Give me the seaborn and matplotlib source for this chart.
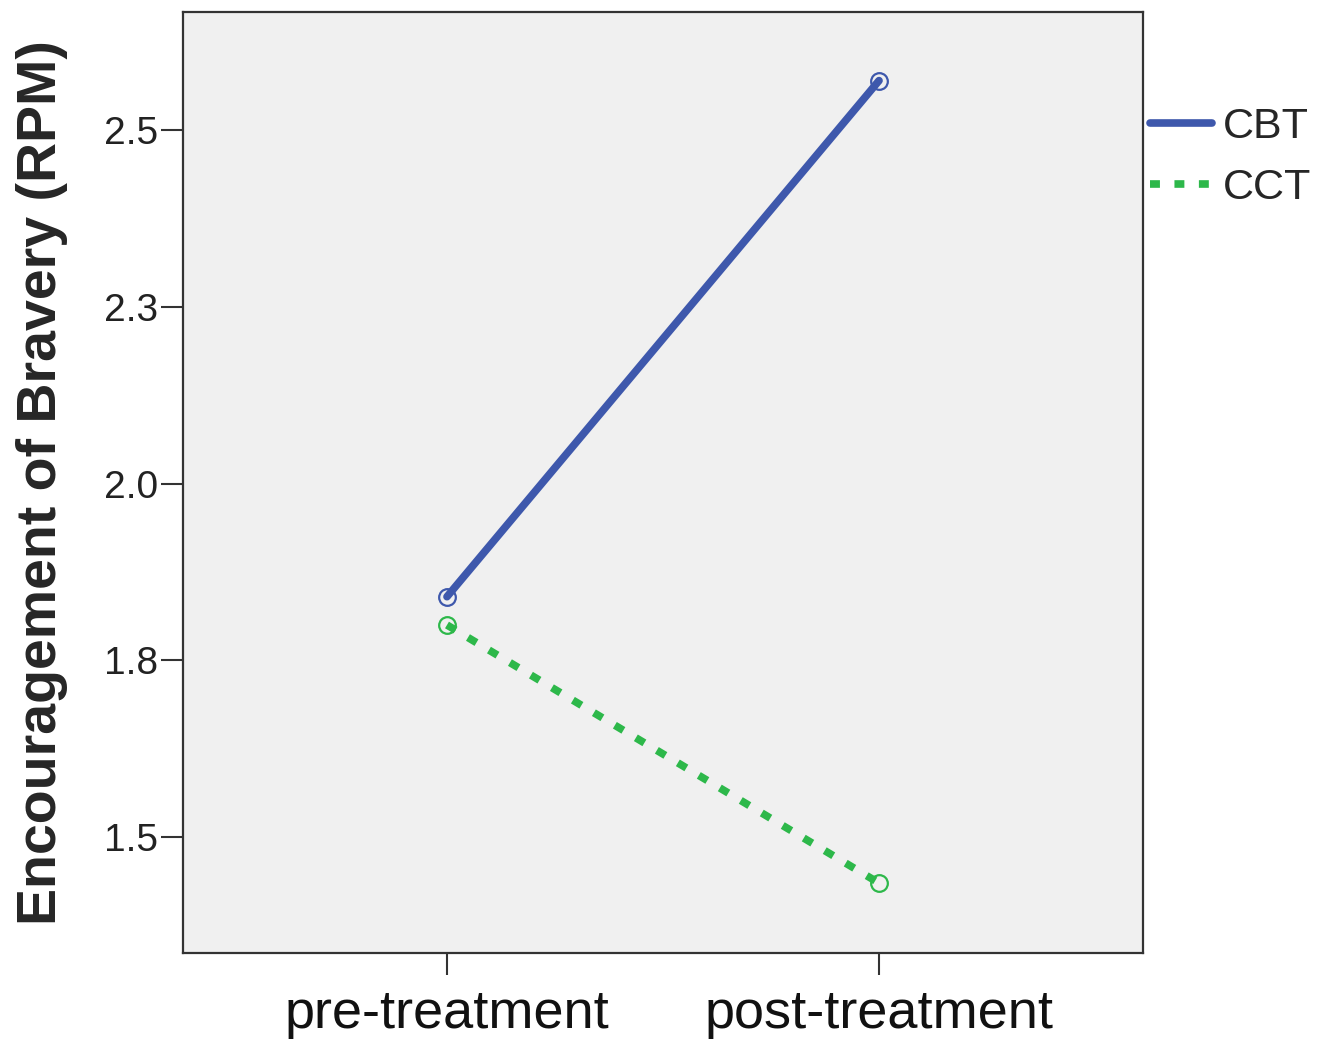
import numpy as np
import pandas as pd
import seaborn as sns
import matplotlib.pyplot as plt
from matplotlib.lines import Line2D

# DATA
times = ['pre-treatment', 'post-treatment']
groups = ['CBT', 'CCT']
cbt_means = [1.84, 2.57]
cct_means = [1.80, 1.435]
ytick_vals = [1.5, 1.75, 2.0, 2.25, 2.5]
ytick_labels = ['1.5', '1.8', '2.0', '2.3', '2.5']

df = pd.DataFrame({
    'time': times * 2,
    'group': ['CBT'] * 2 + ['CCT'] * 2,
    'value': cbt_means + cct_means,
})

sns.set_style('white')
plt.rcParams['font.family'] = ['Liberation Sans', 'DejaVu Sans']

palette = {'CBT': '#3e58ac', 'CCT': '#2db84a'}
dot = (1.3, 1.9)

fig = plt.figure(figsize=(13.28, 10.45), dpi=100)
ax = fig.add_axes([0.1378, 0.088, 0.7229, 0.9005])
ax.set_facecolor('#f0f0f0')

sns.lineplot(data=df, x='time', y='value', hue='group', style='group',
             palette=palette, dashes={'CBT': '', 'CCT': dot},
             linewidth=5.5, marker='o', markersize=12, markerfacecolor='none',
             markeredgewidth=1.6, sort=False, ax=ax, legend=False)

# marker edge colour follows line colour
for line in ax.lines:
    line.set_markeredgecolor(line.get_color())

ax.set_xlim(-0.611, 1.611)
ax.set_ylim(1.336, 2.667)
ax.set_yticks(ytick_vals)
ax.set_yticklabels(ytick_labels)
ax.set_xlabel('')
ax.set_ylabel('Encouragement of Bravery (RPM)', fontsize=40, fontweight='bold', labelpad=26)

ax.tick_params(axis='y', direction='out', length=16, width=1.5, labelsize=28, pad=2, left=True, colors='#333333', labelcolor='#222222')
ax.tick_params(axis='x', direction='out', length=16, width=1.5, labelsize=39, pad=10, bottom=True, colors='#333333', labelcolor='#111111')
for s in ax.spines.values():
    s.set_color('#333333')
    s.set_linewidth(1.6)

# legend outside right
handles = [Line2D([], [], color=palette['CBT'], lw=5.5),
           Line2D([], [], color=palette['CCT'], lw=5.5, dashes=dot)]
fig.legend(handles, groups, loc='upper left', bbox_to_anchor=(0.866, 0.898),
           frameon=False, fontsize=31, handlelength=1.45, handletextpad=0.23,
           labelspacing=0.5, borderaxespad=0, borderpad=0)

fig.savefig('out.png', dpi=100)
